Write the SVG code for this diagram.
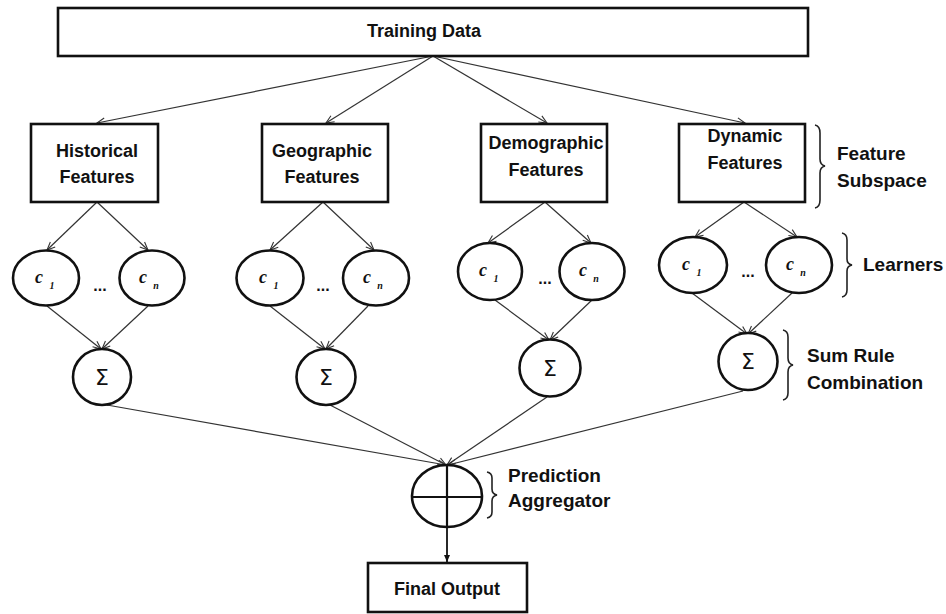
<svg xmlns="http://www.w3.org/2000/svg" width="946" height="614" viewBox="0 0 946 614">
  <defs>
    <marker id="arr" markerWidth="10" markerHeight="10" refX="9" refY="5" orient="auto" markerUnits="userSpaceOnUse">
      <polyline points="1,1.5 9,5 1,8.5" fill="none" stroke="#333" stroke-width="1.1"/>
    </marker>
    <marker id="arrSolid" markerWidth="8" markerHeight="8" refX="7" refY="4" orient="auto" markerUnits="userSpaceOnUse">
      <path d="M0,1 L7,4 L0,7 Z" fill="#111"/>
    </marker>
  </defs>
  <style>
    .box { fill: #fff; stroke: #111; stroke-width: 2.6; }
    .node { fill: #fff; stroke: #111; stroke-width: 2.6; }
    .edge { fill: none; stroke: #333; stroke-width: 1.2; marker-end: url(#arr); }
    .brace { fill: none; stroke: #222; stroke-width: 1.6; }
    .lbl { font-family: "Liberation Sans", Arial, sans-serif; font-weight: bold; font-size: 18px; fill: #111; text-anchor: middle; }
    .side { font-family: "Liberation Sans", Arial, sans-serif; font-weight: bold; font-size: 19px; fill: #111; }
    .cv { font-family: "Liberation Serif", "Times New Roman", serif; font-style: italic; font-weight: bold; font-size: 18px; fill: #111; text-anchor: middle; }
    .sub { font-family: "Liberation Serif", "Times New Roman", serif; font-style: italic; font-weight: bold; font-size: 10px; fill: #111; text-anchor: middle; }
    .dots { font-family: "Liberation Sans", Arial, sans-serif; font-weight: bold; font-size: 16px; fill: #111; text-anchor: middle; }
    .sig { font-family: "DejaVu Sans", sans-serif; font-size: 22px; fill: #111; text-anchor: middle; }
  </style>

  <!-- connectors -->
  <g id="connectors">
    <!-- training data to feature subspaces -->
    <line class="edge" x1="433" y1="56" x2="97" y2="123"/>
    <line class="edge" x1="433" y1="56" x2="326" y2="123"/>
    <line class="edge" x1="433" y1="56" x2="547" y2="123"/>
    <line class="edge" x1="433" y1="56" x2="745" y2="123"/>
    <!-- feature boxes to learners -->
    <line class="edge" x1="97" y1="202" x2="47" y2="250"/>
    <line class="edge" x1="97" y1="202" x2="148" y2="250"/>
    <line class="edge" x1="323" y1="202" x2="270" y2="250"/>
    <line class="edge" x1="323" y1="202" x2="374" y2="250"/>
    <line class="edge" x1="545" y1="202" x2="488" y2="243"/>
    <line class="edge" x1="545" y1="202" x2="591" y2="243"/>
    <line class="edge" x1="744" y1="202" x2="695" y2="237"/>
    <line class="edge" x1="744" y1="202" x2="797" y2="237"/>
    <!-- learners to sum rule -->
    <line class="edge" x1="47" y1="306" x2="101" y2="349"/>
    <line class="edge" x1="148" y1="306" x2="102" y2="349"/>
    <line class="edge" x1="270" y1="306" x2="325" y2="349"/>
    <line class="edge" x1="368" y1="306" x2="326" y2="349"/>
    <line class="edge" x1="495" y1="300" x2="549" y2="340"/>
    <line class="edge" x1="592" y1="300" x2="550" y2="340"/>
    <line class="edge" x1="692" y1="293" x2="747" y2="334"/>
    <line class="edge" x1="792" y1="293" x2="748" y2="334"/>
    <!-- sum rule to aggregator -->
    <line class="edge" x1="107" y1="405" x2="446" y2="465"/>
    <line class="edge" x1="330" y1="405" x2="446" y2="465"/>
    <line class="edge" x1="547" y1="397" x2="447" y2="465"/>
    <line class="edge" x1="743" y1="391" x2="448" y2="465"/>
    <!-- aggregator to output -->
    <line x1="447" y1="527" x2="447" y2="562" stroke="#111" stroke-width="1.8" marker-end="url(#arrSolid)"/>
  </g>

  <!-- training data -->
  <g id="training-data">
    <rect class="box" x="58" y="8" width="750" height="48"/>
    <text class="lbl" x="424" y="37" font-size="17.5">Training Data</text>
  </g>

  <!-- feature subspaces -->
  <g id="historical-features">
    <rect class="box" x="31" y="124" width="127" height="78"/>
    <text class="lbl" x="97" y="157">Historical</text>
    <text class="lbl" x="97" y="183">Features</text>
  </g>
  <g id="geographic-features">
    <rect class="box" x="262" y="124" width="126" height="78"/>
    <text class="lbl" x="322" y="157">Geographic</text>
    <text class="lbl" x="322" y="183">Features</text>
  </g>
  <g id="demographic-features">
    <rect class="box" x="481" y="124" width="126" height="78"/>
    <text class="lbl" x="546" y="149">Demographic</text>
    <text class="lbl" x="546" y="176">Features</text>
  </g>
  <g id="dynamic-features">
    <rect class="box" x="679" y="124" width="126" height="78"/>
    <text class="lbl" x="745" y="142">Dynamic</text>
    <text class="lbl" x="745" y="169">Features</text>
  </g>

  <!-- learners: historical -->
  <g id="hist-c1">
    <ellipse class="node" cx="46" cy="278" rx="33" ry="27.5"/>
    <text class="cv" x="39" y="283">c</text><text class="sub" x="52" y="289">1</text>
  </g>
  <g id="hist-cn">
    <ellipse class="node" cx="152" cy="278" rx="32.5" ry="27.5"/>
    <text class="cv" x="143" y="283">c</text><text class="sub" x="156" y="289">n</text>
  </g>
  <text class="dots" x="100" y="291">...</text>
  <g id="hist-sum">
    <ellipse class="node" cx="102" cy="377" rx="29" ry="28"/>
    <text class="sig" x="102" y="385">Σ</text>
  </g>

  <!-- learners: geographic -->
  <g id="geo-c1">
    <ellipse class="node" cx="270" cy="278" rx="33.5" ry="27.5"/>
    <text class="cv" x="263" y="283">c</text><text class="sub" x="276" y="289">1</text>
  </g>
  <g id="geo-cn">
    <ellipse class="node" cx="376" cy="278" rx="33" ry="27.5"/>
    <text class="cv" x="367" y="283">c</text><text class="sub" x="380" y="289">n</text>
  </g>
  <text class="dots" x="323" y="291">...</text>
  <g id="geo-sum">
    <ellipse class="node" cx="326" cy="377" rx="29.5" ry="28"/>
    <text class="sig" x="326" y="385">Σ</text>
  </g>

  <!-- learners: demographic -->
  <g id="demo-c1">
    <ellipse class="node" cx="490" cy="271.5" rx="32" ry="28.5"/>
    <text class="cv" x="483" y="276">c</text><text class="sub" x="496" y="282">1</text>
  </g>
  <g id="demo-cn">
    <ellipse class="node" cx="592" cy="271.5" rx="32.5" ry="28.5"/>
    <text class="cv" x="583" y="276">c</text><text class="sub" x="596" y="282">n</text>
  </g>
  <text class="dots" x="545" y="284">...</text>
  <g id="demo-sum">
    <ellipse class="node" cx="550" cy="368" rx="30.5" ry="28.5"/>
    <text class="sig" x="550" y="376">Σ</text>
  </g>

  <!-- learners: dynamic -->
  <g id="dyn-c1">
    <ellipse class="node" cx="693" cy="265" rx="34" ry="28"/>
    <text class="cv" x="686" y="270">c</text><text class="sub" x="699" y="276">1</text>
  </g>
  <g id="dyn-cn">
    <ellipse class="node" cx="799" cy="265" rx="33" ry="28"/>
    <text class="cv" x="790" y="270">c</text><text class="sub" x="803" y="276">n</text>
  </g>
  <text class="dots" x="748" y="277">...</text>
  <g id="dyn-sum">
    <ellipse class="node" cx="748" cy="361.5" rx="29.5" ry="28.5"/>
    <text class="sig" x="748" y="369">Σ</text>
  </g>

  <!-- prediction aggregator -->
  <g id="aggregator">
    <ellipse class="node" cx="447" cy="496" rx="35" ry="31"/>
    <line x1="447" y1="465" x2="447" y2="527" stroke="#111" stroke-width="2.2"/>
    <line x1="412" y1="497" x2="482" y2="497" stroke="#111" stroke-width="2.2"/>
  </g>

  <!-- final output -->
  <g id="final-output">
    <rect class="box" x="368" y="563" width="159" height="49"/>
    <text class="lbl" x="447" y="595">Final Output</text>
  </g>

  <!-- level annotations -->
  <g id="feature-subspace-label">
    <path class="brace" d="M815,125 Q820,126 820,133 L820,159 Q820,165 825,166 Q820,167 820,173 L820,200 Q820,207 815,208"/>
    <text class="side" x="837" y="160">Feature</text>
    <text class="side" x="837" y="187">Subspace</text>
  </g>
  <g id="learners-label">
    <path class="brace" d="M842,233 Q847,234 847,240 L847,259 Q847,264 852,265 Q847,266 847,271 L847,290 Q847,296 842,297"/>
    <text class="side" x="863" y="271">Learners</text>
  </g>
  <g id="sum-rule-label">
    <path class="brace" d="M783,330 Q788,331 788,337 L788,358 Q788,364 793,365 Q788,366 788,372 L788,393 Q788,399 783,400"/>
    <text class="side" x="807" y="362">Sum Rule</text>
    <text class="side" x="807" y="389">Combination</text>
  </g>
  <g id="prediction-aggregator-label">
    <path class="brace" d="M487,472 Q492,473 492,478 L492,489 Q492,494 497,495 Q492,496 492,501 L492,512 Q492,517 487,518"/>
    <text class="side" x="508" y="482">Prediction</text>
    <text class="side" x="508" y="507">Aggregator</text>
  </g>
</svg>
